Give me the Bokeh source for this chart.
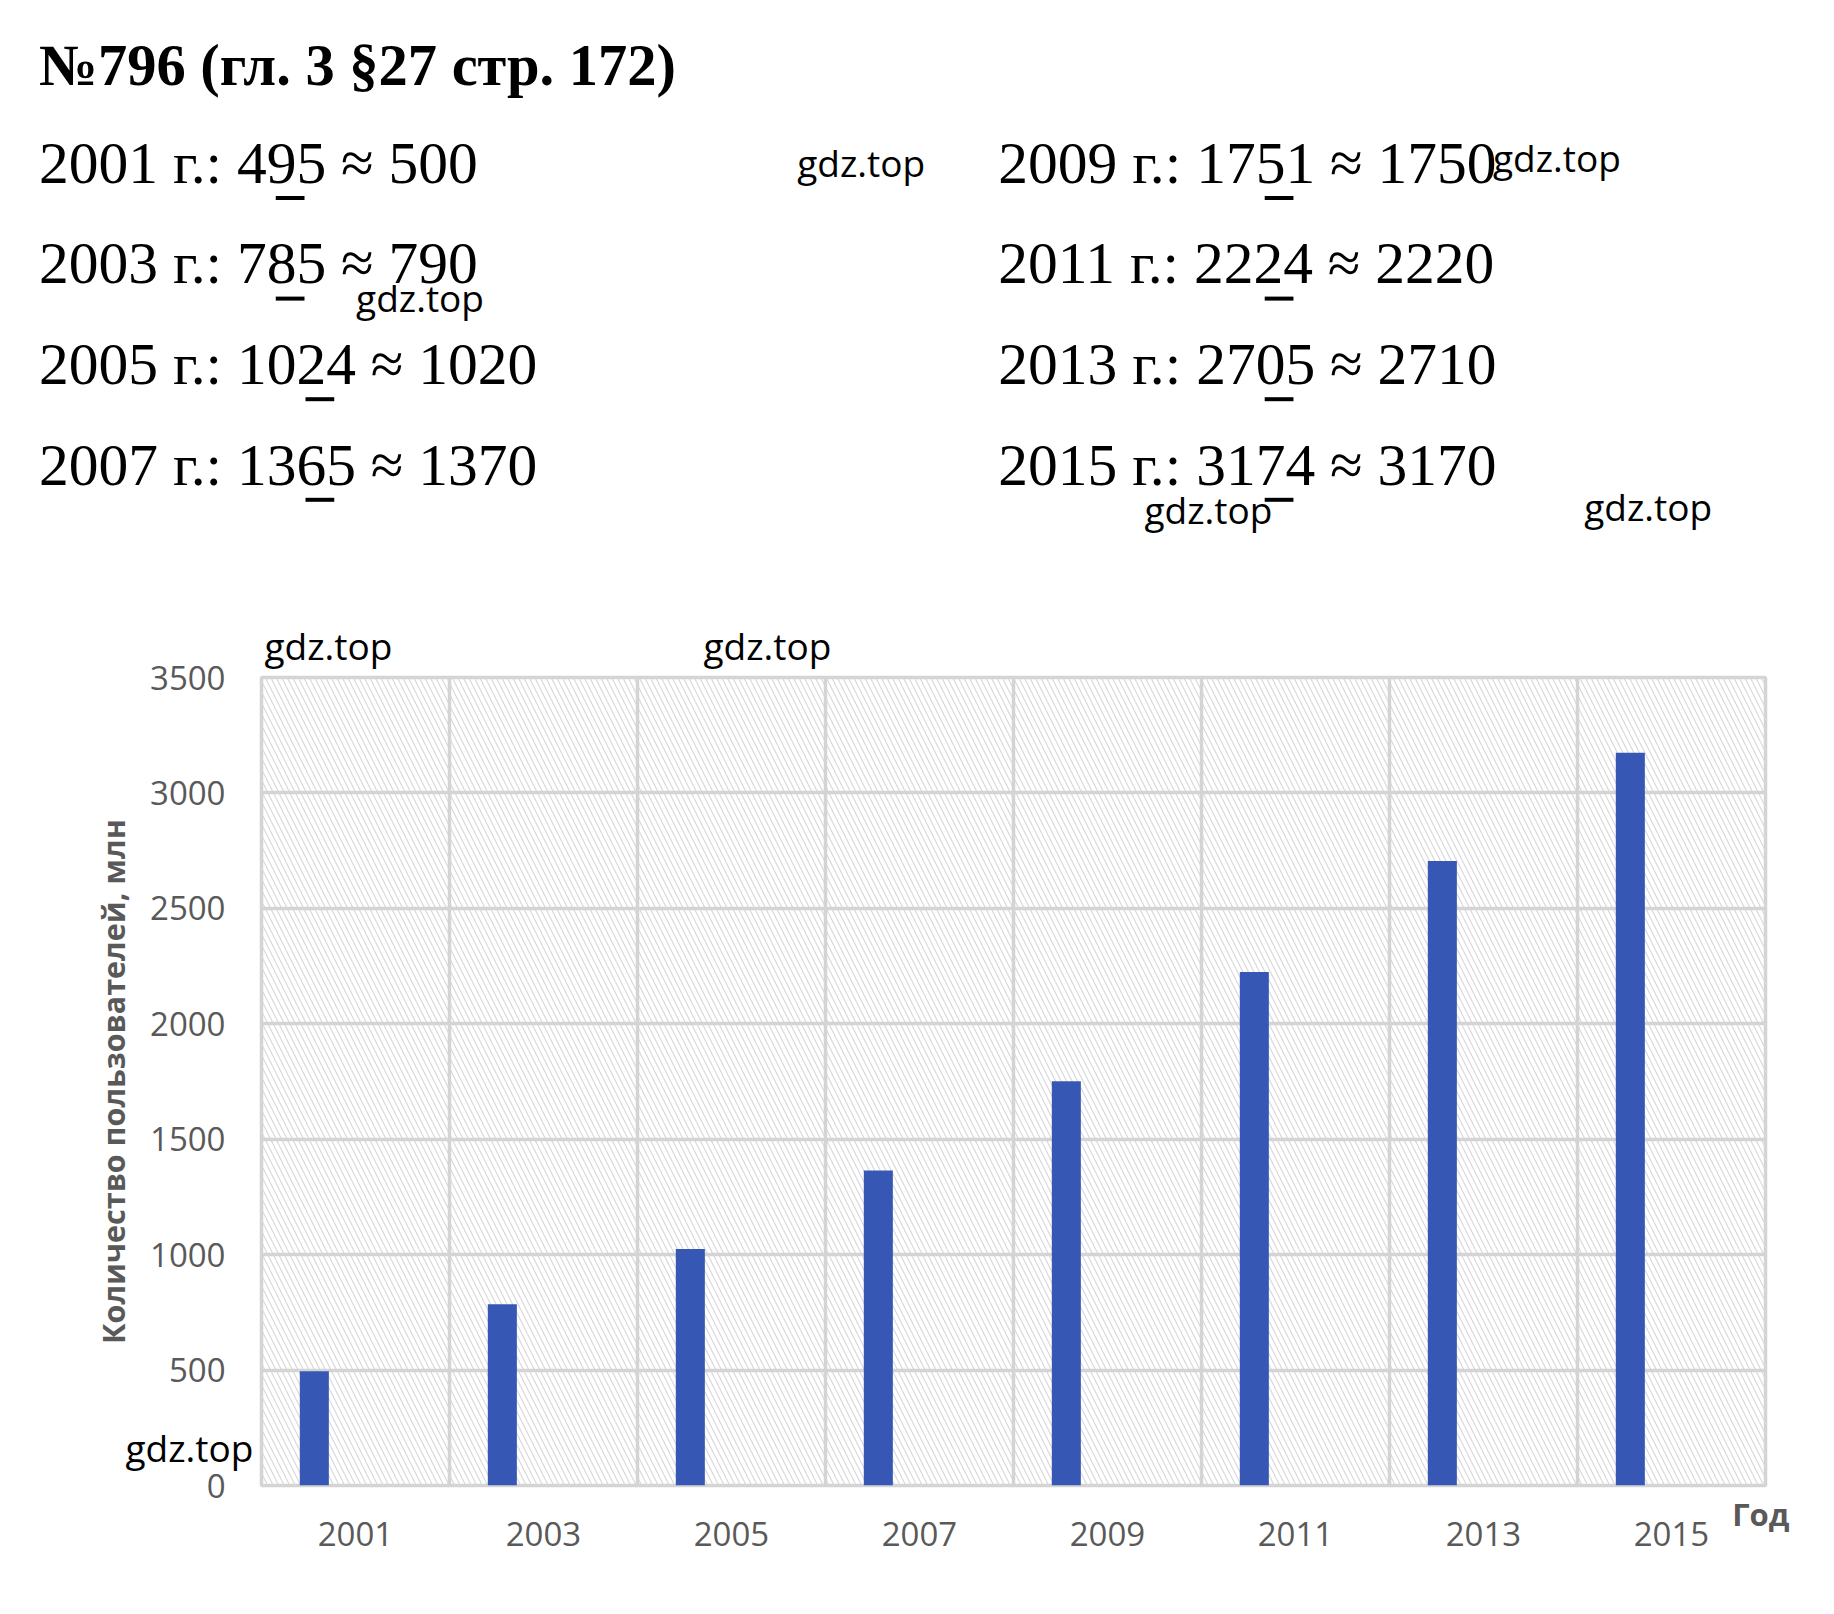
from bokeh.plotting import figure
from bokeh.models import Range1d, FixedTicker, BoxAnnotation, ColumnDataSource
from bokeh.transform import dodge
from bokeh.core.properties import value
from bokeh.embed import file_html
from bokeh.resources import INLINE

# ---------------- data ----------------
years = [2001, 2003, 2005, 2007, 2009, 2011, 2013, 2015]
users = [495, 785, 1024, 1365, 1751, 2224, 2705, 3174]
rounded = [500, 790, 1020, 1370, 1750, 2220, 2710, 3170]
y_ticks = [0, 500, 1000, 1500, 2000, 2500, 3000, 3500]
title_text = "№796 (гл. 3 §27 стр. 172)"
y_label = "Количество пользователей, млн"
x_label = "Год"
watermark = "gdz.top"

# ---------------- geometry (page pixels) ----------------
W, H = 1834, 1614
FL, FR, FT, FB = 261, 1765, 677, 1485
X0, X1 = 2000, 2016
Y0, Y1 = 0, 3500


def px2x(px):
    return X0 + (px - FL) / (FR - FL) * (X1 - X0)


def py2y(py):
    return Y0 + (FB - py) / (FB - FT) * (Y1 - Y0)


p = figure(width=W, height=H, output_backend="svg", toolbar_location=None,
           x_range=Range1d(X0, X1), y_range=Range1d(Y0, Y1),
           min_border_left=FL, min_border_right=W - FR,
           min_border_top=FT, min_border_bottom=H - FB)
p.background_fill_color = "white"
p.border_fill_color = "white"
p.outline_line_color = "#d4d4d4"
p.outline_line_width = 3.5

# hatched plot background
p.add_layout(BoxAnnotation(level="image", fill_alpha=0, line_alpha=0,
                           hatch_pattern="\\", hatch_color="#d9d9d9",
                           hatch_weight=1.2, hatch_scale=11))

# grids
bounds = [y - 1 for y in years] + [years[-1] + 1]
p.xgrid.ticker = FixedTicker(ticks=bounds)
p.ygrid.ticker = FixedTicker(ticks=y_ticks)
for g in (p.xgrid, p.ygrid):
    g.grid_line_color = "#d4d4d4"
    g.grid_line_width = 3.5

# axes
p.xaxis.ticker = FixedTicker(ticks=years)
p.yaxis.ticker = FixedTicker(ticks=y_ticks)
for ax in (p.xaxis, p.yaxis):
    ax.axis_line_color = None
    ax.major_tick_line_color = None
    ax.minor_tick_line_color = None
    ax.major_label_text_font = "Open Sans"
    ax.major_label_text_font_size = "33px"
    ax.major_label_text_color = "#595959"
p.xaxis.major_label_standoff = 30
p.yaxis.major_label_standoff = 30
p.yaxis.axis_label = y_label
p.yaxis.axis_label_text_font = "Open Sans"
p.yaxis.axis_label_text_font_style = "bold"
p.yaxis.axis_label_text_font_size = "30.5px"
p.yaxis.axis_label_text_color = "#595959"
p.yaxis.axis_label_standoff = 13

# bars
src = ColumnDataSource(dict(year=years, users=users))
p.vbar(x=dodge("year", -0.438, range=p.x_range), top="users", bottom=0, width=0.309,
       source=src, fill_color="#3658b4", line_color=None)

BASE_SHIFT = 0.40  # em; compensates the renderer's baseline placement


def add_text(px, py, txt, font, size, color="black", style="normal"):
    p.text(x=[px2x(px)], y=[py2y(py - BASE_SHIFT * size)], text=[txt], text_font=value(font),
           text_font_size=value(f"{size}px"), text_font_style=style,
           text_color=color, text_align="left", text_baseline="alphabetic",
           level="overlay")


# x axis title
add_text(1731.7, 1525.5, x_label, "Open Sans", 31, "#595959", "bold")

# header
add_text(38.6, 88, title_text, "Liberation Serif", 58.5, "black", "bold")

FS = 59.5
col_x = [38.6, 997.8]
row_base = [186, 286.6, 387.2, 487.8]
PREFIX_EM = 4 * 0.5 + 0.25 + 0.441 + 0.25 + 0.278 + 0.25  # "YYYY г.: "
ul = dict(left=[], right=[], top=[], bottom=[])
for i, (yr, v, r) in enumerate(zip(years, users, rounded)):
    cx = col_x[i // 4]
    by = row_base[i % 4]
    add_text(cx, by, f"{yr} г.: {v} ≈ {r}", "Liberation Serif", FS)
    idx = len(str(v)) - 2
    ux = cx + (PREFIX_EM + idx * 0.5) * FS
    ul["left"].append(px2x(ux + 0.5))
    ul["right"].append(px2x(ux + 0.5 * FS - 0.5))
    ul["top"].append(py2y(by + 9.5))
    ul["bottom"].append(py2y(by + 13.5))
p.quad(source=ColumnDataSource(ul), left="left", right="right", top="top", bottom="bottom",
       fill_color="black", line_color=None, level="overlay")

# watermarks (page px: left, baseline)
wm_pos = [(796.7, 176.7), (355.6, 312), (1492.5, 172), (1144, 524), (1583.7, 520.5),
          (264, 659.3), (703, 659.3), (125, 1461.7)]
for (wx, wy) in wm_pos:
    add_text(wx, wy, watermark, "Open Sans", 37)

open("out.html", "w").write(file_html(p, INLINE))
